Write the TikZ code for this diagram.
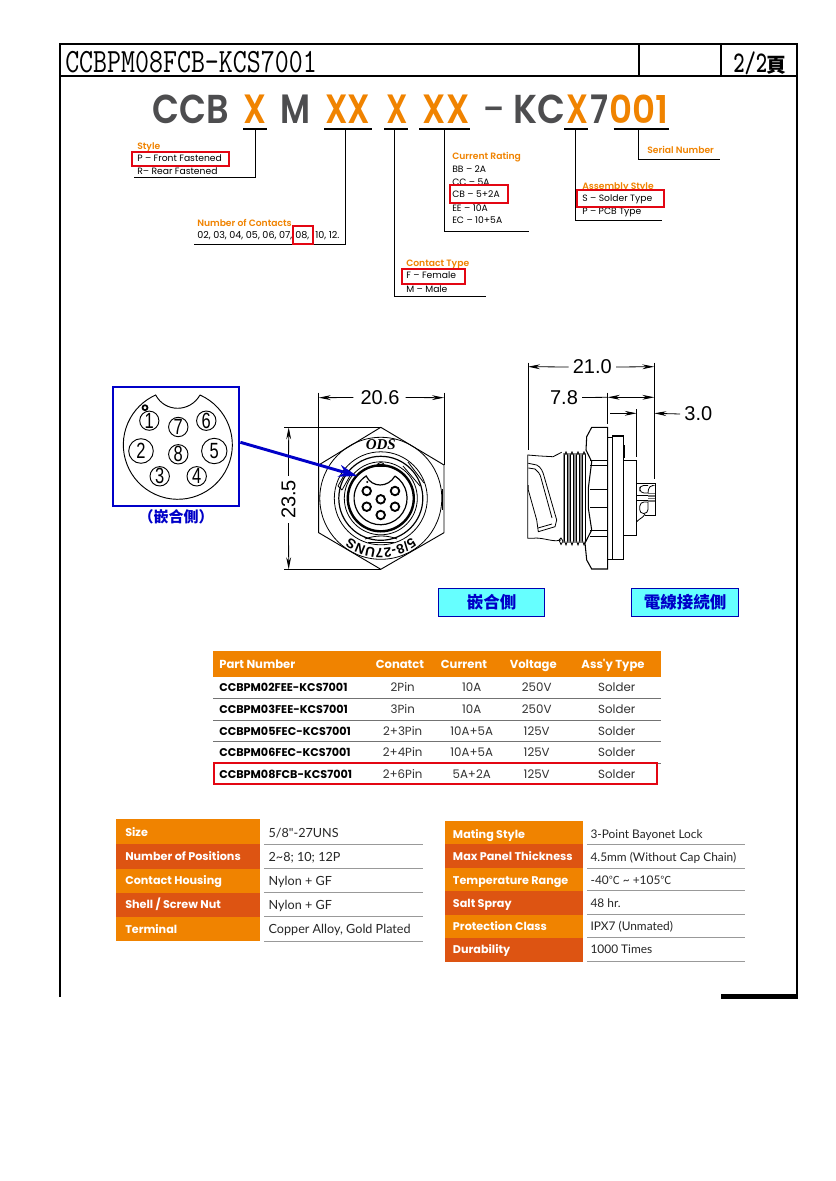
\documentclass[tikz,border=0pt]{standalone}
\usepackage{fontspec}
\usepackage{graphicx}
\usetikzlibrary{arrows.meta,calc,decorations.text}
\newfontfamily\pop{Poppins}
\newfontfamily\popm{Poppins SemiBold}
\newfontfamily\lat{Lato}
\newfontfamily\ari{Liberation Sans}
\newfontfamily\tim{Liberation Serif}
\newfontfamily\cjk{Noto Sans CJK TC}
\newcommand\fs[1]{\fontsize{\fpeval{#1*0.75}}{\fpeval{#1*0.9}}\selectfont}
\newcommand\hd[2]{\resizebox{\fpeval{#1*0.75}pt}{21.4pt}{\popm\fs{40}#2}}
\definecolor{ora}{HTML}{F08300}
\definecolor{dko}{HTML}{DD5412}
\definecolor{hgray}{HTML}{4D4D4F}
\definecolor{tred}{HTML}{E30613}
\definecolor{bblue}{HTML}{0000C8}
\definecolor{cya}{HTML}{66FFFF}
\definecolor{rule}{HTML}{999999}
\tikzset{
  frameline/.style={line width=1.9pt,black},
  thinframe/.style={line width=1.1pt,black},
  leader/.style={line width=0.75pt,black},
  redbox/.style={draw=tred,line width=1.5pt,fill=white,inner sep=0pt},
  lbl/.style={anchor=base west,inner sep=0pt,text=black,font=\pop\fs{9.2}},
  olbl/.style={anchor=base west,inner sep=0pt,text=ora,font=\popm\fs{9.2}},
  head/.style={anchor=base west,inner sep=0pt},
  draft/.style={line width=0.6pt,black},
  draftb/.style={line width=1.4pt,black},
  dimline/.style={line width=0.6pt,black},
  dimarrow/.style={line width=0.6pt,black,-{Stealth[length=9pt,width=3.6pt]}},
  dimtext/.style={inner sep=0pt,font=\ari\fs{20}},
  tablehead/.style={inner sep=0pt,anchor=base,text=white,font=\pop\bfseries\fs{11.6}},
  cell/.style={inner sep=0pt,anchor=base,text=black!80,font=\pop\fs{11.8}},
  pn/.style={inner sep=0pt,anchor=base west,font=\pop\bfseries\fs{11.2}},
  speclabel/.style={anchor=base west,inner sep=0pt,text=white,font=\pop\bfseries\fs{11.2}},
  specval/.style={anchor=base west,inner sep=0pt,text=black!85,font=\lat\fs{12.6}},
  specvalr/.style={anchor=base west,inner sep=0pt,text=black!85,font=\lat\fs{11.9}},
  rulel/.style={line width=0.75pt,rule},
  sidetag/.style={draw=blue!70!black,line width=0.9pt,fill=cya,inner sep=0pt,text=bblue,font=\cjk\bfseries\fs{16.5}},
}
\begin{document}
\begin{tikzpicture}[x=0.75pt,y=-0.75pt]
\useasboundingbox (0,0) rectangle (835,1181);
\fill[white] (0,0) rectangle (835,1181);

% ---------- frame
\coordinate (fTL) at (60,44);
\coordinate (fTR) at (797,44);
\coordinate (fBL) at (60,997);
\coordinate (fBR) at (797,997);
\coordinate (hL) at (60,76);
\coordinate (hR) at (797,76);
\draw[frameline] (fBL) -- (fTL) -- (fTR) -- (fBR);
\draw[frameline] (hL) -- (hR);
\draw[thinframe] (639,44) -- (639,76);
\draw[thinframe] (721,44) -- (721,76);
\fill[black] (721,994) rectangle (798,999);
\node[anchor=west,inner sep=0pt] (title) at (65,62) {\scalebox{0.798}[1]{\ttfamily\fs{34}CCBPM08FCB-KCS7001}};
\node[anchor=west,inner sep=0pt] (page) at (733,63) {\scalebox{0.72}[1]{\ttfamily\bfseries\fs{30}2/2}\kern-0.5pt{\cjk\bfseries\fs{20}頁}};

% ---------- code heading
\node[head,text=hgray] (hCCB) at (152.5,123.5) {\hd{76.5}{CCB}};
\node[head,text=ora] (hX1) at (243,123.5) {\hd{23}{X}};
\node[head,text=hgray] (hM) at (280,123.5) {\hd{30}{M}};
\node[head,text=ora] (hXX1) at (325,123.5) {\hd{45}{XX}};
\node[head,text=ora] (hX2) at (386,123.5) {\hd{21.5}{X}};
\node[head,text=ora] (hXX2) at (422.5,123.5) {\hd{46.5}{XX}};
\node[head,text=hgray,font=\popm\fs{30}] (hdash) at (483.5,119) {–};
\node[head,text=hgray] (hKC) at (513.5,123.5) {\hd{52}{KC}};
\node[head,text=ora] (hX3) at (566,123.5) {\hd{22}{X}};
\node[head,text=hgray] (h7) at (590.5,123.5) {\hd{18}{7}};
\node[head,text=ora] (h001) at (609,123.5) {\hd{59}{001}};

% underlines
\foreach \a/\b/\n in {243/267/1,324/372/2,384/407.5/3,419/470/4,564/588/5,613.5/668.5/6}{
  \draw[leader,line width=0.9pt] (\a,129) -- (\b,129);
}
% leaders
\coordinate (uStyle) at (255,129);   \coordinate (eStyle) at (134,177);
\coordinate (uCont) at (345.5,129);  \coordinate (eCont) at (193.7,244.3);
\coordinate (uType) at (394,129);    \coordinate (eType) at (486,296);
\coordinate (uCurr) at (444.5,129);  \coordinate (eCurr) at (529,231);
\coordinate (uAsm) at (575,129);     \coordinate (eAsm) at (662,220);
\coordinate (uSer) at (638,129);     \coordinate (eSer) at (720,159);
\draw[leader] (uStyle) |- (eStyle);
\draw[leader] (uCont) |- (eCont);
\draw[leader] (uType) |- (eType);
\draw[leader] (uCurr) |- (eCurr);
\draw[leader] (uAsm) |- (eAsm);
\draw[leader] (uSer) |- (eSer);

% text beneath the red boxes
\node[olbl] (tStyle) at (137,149.5) {Style};
\node[lbl] (tR) at (137,174.3) {R– Rear Fastened};
\node[olbl] (tCont) at (197,226.5) {Number of Contacts};
\node[lbl,font=\pop\fs{9.6}] (tList) at (197,238.5) {02, 03, 04, 05, 06, 07,};
\node[olbl] (tCurr) at (452,159.5) {Current Rating};
\node[lbl] (tBB) at (452,172.3) {BB – 2A};
\node[lbl] (tCC) at (452,185.3) {CC – 5A};
\node[lbl] (tEE) at (452,211.3) {EE – 10A};
\node[lbl] (tEC) at (452,223.3) {EC – 10+5A};
\node[olbl] (tAsm) at (582,189.5) {Assembly Style};
\node[lbl] (tPCB) at (582,214.3) {P – PCB Type};
\node[olbl] (tSer) at (647,153.5) {Serial Number};
\node[olbl] (tType) at (406,266.5) {Contact Type};
\node[lbl] (tM) at (406,292.3) {M – Male};
% red boxes
\node[redbox,minimum width=72.7pt,minimum height=10.6pt] (rStyle) at (180.5,158.8) {};
\node[redbox,minimum width=15pt,minimum height=14pt] (rCont) at (302.5,235) {};
\node[redbox,minimum width=43.5pt,minimum height=13.7pt] (rCurr) at (479,193.8) {};
\node[redbox,minimum width=65pt,minimum height=12.7pt] (rAsm) at (620.7,198.5) {};
\node[redbox,minimum width=47.6pt,minimum height=11.2pt] (rType) at (433.3,276.2) {};
\node[lbl] (tP) at (137,161.3) {P – Front Fastened};
\node[lbl,font=\pop\fs{9.6}] (t08) at (295,238.5) {08,};
\node[lbl,font=\pop\fs{9.6}] (t10) at (315,238.5) {10, 12.};
\node[lbl] (tCB) at (452,197.8) {CB – 5+2A};
\node[lbl] (tS) at (582,201.3) {S – Solder Type};
\node[lbl] (tF) at (406,278.8) {F – Female};

% ---------- pin detail
\node[draw=bblue,line width=1.6pt,minimum width=95pt,minimum height=89.5pt,inner sep=0pt] (detail) at (176,446.3) {};
\draw[draft,line width=0.7pt] (200,395) arc[start angle=-66,end angle=246,radius=54.5]
   .. controls (165,412.7) and (190,412.7) .. (200,395);
\draw[draft,line width=1.3pt] (145,407.7) circle[radius=2.5];
\foreach \nm/\px/\py/\r/\sz in {1/149.3/420.7/9.6/22,7/178.3/427/9.7/22,6/206.3/420.7/9.7/22,2/141/451/12.3/22,8/178.3/454.3/9.7/22,5/214.3/451/12.7/22,3/159.7/476.3/9.7/22,4/196.7/476.3/9.7/22}{
  \node[draw,circle,line width=0.7pt,minimum size=\fpeval{2*\r*0.75}pt,inner sep=0pt] (pin\nm) at (\px,\py) {\scalebox{0.75}[1]{\ari\fs{\sz}\nm}};
}
\node[inner sep=0pt,text=bblue,font=\cjk\bfseries\fs{15}] (mateA) at (176,517) {（嵌合側）};

% ---------- front view: dimension lines
\draw[dimline] (318.7,392.7) -- (318.7,465);
\draw[dimline] (444,392.7) -- (444,465);
\node[dimtext] (d206) at (380,397.5) {20.6};
\coordinate (a206l) at (318.7,397.7);
\coordinate (a206r) at (444,397.7);
\draw[dimarrow] (d206.west) ++(-7,0) -- (a206l);
\draw[dimarrow] (d206.east) ++(6,0) -- (a206r);
\draw[dimline] (284,427.3) -- (381,427.3);
\draw[dimline] (284,569.3) -- (381,569.3);
\node[dimtext,rotate=90] (d235) at (288.5,499.5) {23.5};
\coordinate (a235t) at (288.7,427.3);
\coordinate (a235b) at (288.7,569.3);
\draw[dimarrow] (d235.east) ++(0,-4) -- (a235t);
\draw[dimarrow] (d235.west) ++(0,4) -- (a235b);

% ---------- front view: part
\coordinate (cF) at (380.8,498.3);
\draw[draft,line width=0.7pt] (380.8,427.3) -- (444,465) -- (444,532.7) -- (380.8,569.3) -- (318.7,532.7) -- (318.7,465) -- cycle;
\draw[draftb] (442.5,489) -- (442.5,510);
\draw[draft] (cF) circle[radius=61];
\draw[draft] (cF) circle[radius=46.5];
\draw[draft,line width=0.9pt] (cF) circle[radius=42];
\draw[draft] (cF) circle[radius=36.5];
\draw[draft,line width=1.8pt] (cF) circle[radius=33];
\draw[draft,line width=0.9pt] (395,476) arc[start angle=-57,end angle=237,radius=26.5]
   .. controls (372,488) and (388,488) .. (395,476);
\draw[draft] (376.8,466.5) arc[start angle=180,end angle=360,radius=4];
\draw[draft] (372,466) -- (389,466);
\fill[black] (367.3,482) circle[radius=1.1];
\foreach \nm/\px/\py in {a/366.7/491,b/395/491,c/380.7/499.3,d/366.7/506.7,e/395/506.7,f/380.7/515}{
  \node[draw,circle,line width=1.4pt,minimum size=6.4pt,inner sep=0pt] (fp\nm) at (\px,\py) {};
}
% lugs
\draw[draft] (338,486) -- (347,470) (342,490) -- (351,474) (338,486) -- (342,490);
\draw[draft] (403,466) -- (420,486) (408,462) -- (424,483);
\draw[draft] (365,539) .. controls (375,535) and (388,535) .. (397,539);
\draw[draft] (368,542) -- (394,542);
\node[inner sep=0pt,font=\tim\bfseries\itshape\fs{15}] (ods) at (380.8,444.5) {ODS};
\path[decorate,decoration={text along path,text align=center,text={|\ari\bfseries\fs{13.5}|5/8-27UNS}}]
  (419.1,530.4) arc[start angle=40,end angle=140,radius=50];

% arrow
\coordinate (tipA) at (357.3,476);
\draw[bblue,line width=2.2pt,-{Stealth[length=14pt,width=9pt]}] ([yshift=3pt]detail.east) -- (tipA);

% ---------- side view: dimension lines
\draw[dimline] (528,362.7) -- (528,450);
\draw[dimline] (654.3,362.7) -- (654.3,479.3);
\draw[dimline] (607.7,392.7) -- (607.7,424);
\draw[dimline] (636.7,409.3) -- (636.7,456.7);
\node[dimtext] (d210) at (592.3,367) {21.0};
\coordinate (a21l) at (528,366.7);
\coordinate (a21r) at (654.3,366.7);
\draw[dimarrow] (d210.west) ++(-4,0) -- (a21l);
\draw[dimarrow] (d210.east) ++(4,0) -- (a21r);
\node[dimtext] (d78) at (564,397.5) {7.8};
\coordinate (a78l) at (607.7,397.3);
\coordinate (a78r) at (654.3,397.3);
\coordinate (a78m) at (631,397.3);
\draw[dimline] (d78.east) ++(4,0) -- (a78l);
\draw[dimarrow] (a78m) -- (a78l);
\draw[dimarrow] (a78m) -- (a78r);
\node[dimtext] (d30) at (698.3,414) {3.0};
\coordinate (a30s) at (610,413.3);
\coordinate (a30l) at (636.7,413.3);
\coordinate (a30r) at (654.3,413.3);
\draw[dimarrow] (a30s) -- (a30l);
\draw[dimarrow] (d30.west) ++(-4,0) -- (a30r);

% ---------- side view: part
% housing
\draw[draft] (561.7,452.3) -- (553,456.7) -- (540,456) -- (527.7,455) -- (527.7,538.3) -- (533,538.3) .. controls (540,537) and (550,541) .. (556.7,540.7) -- (561,540);
\draw[draft] (528.3,463.3) -- (536.7,465) .. controls (541,467) and (543,472) .. (544,476) -- (556.7,520) -- (555,526.7) -- (538.3,531.7) -- (536.7,520) -- (528.3,490) -- (528.3,485);
\draw[draft] (528.3,468) -- (535,469) .. controls (538,471) and (540,474) .. (541,478) -- (552,518);
\draw[draft] (538,528) -- (552,524);
% thread
\fill[black!45] (562.5,453) rectangle (586,543);
\foreach \tx in {563,569,575,581}{
  \fill[white] (\tx+2,455) rectangle (\tx+4,541);
  \draw[draft] (\tx+1.6,455) -- (\tx+1.6,541) (\tx+4.4,455) -- (\tx+4.4,541);
  \draw[draft] (\tx+1.6,455) -- (\tx+3,451.8) -- (\tx+4.4,455);
  \draw[draft,fill=white] (\tx+1.6,541) -- (\tx+3,545) -- (\tx+4.4,541);
}
\draw[draft] (559,540) -- (561,538) -- (563,541) -- (561,544.5) -- (559,540);
% nut
\draw[draft,line width=0.8pt,fill=white] (607.7,427.3) -- (591.7,427.3) -- (586.7,436.7) -- (586,450) -- (591.7,461.7) -- (588.3,488.3) -- (588.3,508) -- (591.7,530) -- (585,543) -- (586.7,560) -- (591.7,569) -- (607.7,569) -- cycle;
\foreach \ny in {460.7,465.7,489.3,507.3,530.7,536}{
  \draw[draft] (590,\ny) -- (607.7,\ny);
}
% flange
\draw[draft,line width=0.8pt] (607.7,437.3) rectangle (612.3,559.3);
\draw[draft,line width=0.8pt] (612.3,436) rectangle (623.3,559.3);
\draw[draftb] (623.9,445) -- (623.9,458);
% rear body
\draw[draft,line width=0.8pt] (623.3,460.7) -- (636.7,460.7) -- (636.7,535.7) -- (623.3,535.7);
% terminals
\fill[black!55] (648,493) rectangle (654.5,502);
\foreach \gy in {494.5,497,499.5}{\draw[white,line width=0.3pt] (648,\gy) -- (654.5,\gy);}
\draw[draft] (636.7,483.3) -- (655,483.3) -- (655,515) -- (645,515);
\draw[draft,rounded corners=3pt] (648,493) -- (640,493) -- (639.5,485.5) -- (648,485.5);
\draw[draft,rounded corners=3pt] (648,493) -- (649,485.5) -- (652,485.5);
\draw[draft,rounded corners=3pt] (648,502) -- (640,502) -- (639.5,513.5) -- (648,513.5) -- (648,502);
\draw[draft] (636.7,521.7) .. controls (640,518) and (643,518) .. (645,514);
\draw[draft] (637,495) -- (648,495) (637,500) -- (648,500);

% tags
\node[sidetag,minimum width=79.8pt,minimum height=20.7pt] (tagA) at (491.5,602.5) {嵌合側};
\node[sidetag,minimum width=80.5pt,minimum height=20.7pt] (tagB) at (685,602.5) {電線接続側};

% ---------- parts table
\fill[ora] (213.3,651) rectangle (661,676.7);
\node[tablehead,anchor=base west] (thA) at (219,668.5) {Part Number};
\node[tablehead] (thB) at (400,668.5) {Conatct};
\node[tablehead] (thC) at (464,668.5) {Current};
\node[tablehead] (thD) at (533.3,668.5) {Voltage};
\node[tablehead] (thE) at (613,668.5) {Ass'y Type};
\foreach \ly in {698.7,720.3,741.7,763}{
  \draw[rulel,line width=0.7pt,black!55] (213.3,\ly) -- (661,\ly);
}
\foreach \i/\ry/\pnum/\con/\cur/\vol in {
  1/691.7/CCBPM02FEE-KCS7001/2Pin/10A/250V,
  2/713.7/CCBPM03FEE-KCS7001/3Pin/10A/250V,
  3/735.7/CCBPM05FEC-KCS7001/2+3Pin/10A+5A/125V,
  4/756.7/CCBPM06FEC-KCS7001/2+4Pin/10A+5A/125V,
  5/778.7/CCBPM08FCB-KCS7001/2+6Pin/5A+2A/125V}{
  \node[pn] (pn\i) at (219,\ry) {\pnum};
  \node[cell] (con\i) at (402.7,\ry) {\con};
  \node[cell] (cur\i) at (471.7,\ry) {\cur};
  \node[cell] (vol\i) at (536.7,\ry) {\vol};
  \node[cell] (sol\i) at (616.7,\ry) {Solder};
}
\node[draw=tred,line width=1.4pt,minimum width=332pt,minimum height=15.8pt,inner sep=0pt] (rowbox) at (435.7,773.5) {};

% ---------- specification tables
\foreach \i/\ya/\yb/\col/\yt/\lab in {
  1/819/844/ora/836.5/Size,
  2/844/869.3/dko/860.5/Number of Positions,
  3/869.3/892.7/ora/884.5/Contact Housing,
  4/892.7/917/dko/908.5/{Shell / Screw Nut},
  5/917/940.7/ora/933.5/Terminal}{
  \fill[\col] (116,\ya) rectangle (260,\yb);
  \node[speclabel] (sl\i) at (125,\yt) {\lab};
}
\foreach \i/\yv/\yl/\val in {
  1/837/844.3/{5/8"-27UNS},
  2/861/868.3/{2\textasciitilde 8; 10; 12P},
  3/885/892.3/{Nylon + GF},
  4/909/916.3/{Nylon + GF},
  5/933.5/941/{Copper Alloy, Gold Plated}}{
  \node[specval] (sv\i) at (268.4,\yv) {\val};
  \draw[rulel] (264,\yl) -- (423,\yl);
}
\foreach \i/\ya/\yb/\col/\yt/\lab in {
  1/821.3/844/ora/838/Mating Style,
  2/844/868/dko/860.7/Max Panel Thickness,
  3/868/891/ora/884/Temperature Range,
  4/891/915/dko/907/Salt Spray,
  5/915/938/ora/930/Protection Class,
  6/938/962/dko/953/Durability}{
  \fill[\col] (445,\ya) rectangle (582.8,\yb);
  \node[speclabel] (rl\i) at (452.7,\yt) {\lab};
}
\foreach \i/\yv/\yl/\val in {
  1/838.3/844/{3-Point Bayonet Lock},
  2/861/868/{4.5mm (Without Cap Chain)},
  3/884.3/890.7/{-40{\cjk\fs{11}℃} \textasciitilde{} +105{\cjk\fs{11}℃}},
  4/907.3/914.3/{48 hr.},
  5/930.3/937/{IPX7 (Unmated)},
  6/953.3/961/{1000 Times}}{
  \node[specvalr] (rv\i) at (590.3,\yv) {\val};
  \draw[rulel] (587.4,\yl) -- (745,\yl);
}
\end{tikzpicture}
\end{document}
